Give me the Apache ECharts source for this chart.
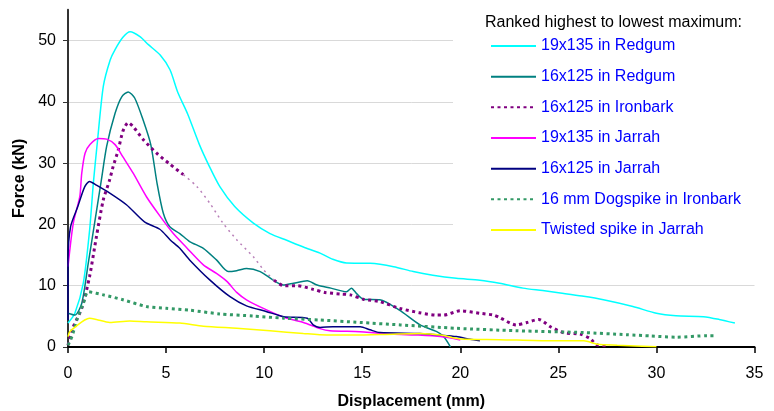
<!DOCTYPE html>
<html>
<head>
<meta charset="utf-8">
<script src="https://cdn.jsdelivr.net/npm/echarts@6/dist/echarts.min.js"></script>
<style>
html,body{margin:0;padding:0;background:#fff;}
#chart{width:774px;height:411px;}
</style>
</head>
<body>
<div id="chart"></div>
<script>
// ---- Data (displacement mm, force kN) ----
const seriesNames = [
  '19x135 in Redgum',
  '16x125 in Redgum',
  '16x125 in Ironbark',
  '19x135 in Jarrah',
  '16x125 in Jarrah',
  '16 mm Dogspike in Ironbark',
  'Twisted spike in Jarrah'
];
const legendTitle = 'Ranked highest to lowest maximum:';
const xTicks = [0, 5, 10, 15, 20, 25, 30, 35];
const yTicks = [0, 10, 20, 30, 40, 50];

const redgum19 = [[0,3.9],[0.35,5.5],[0.78,10.4],[1.1,19],[1.3,27],[1.5,33.5],[1.8,42.5],[2.15,46.8],[2.4,48.5],[2.8,50.5],[3.17,51.4],[3.67,50.6],[4.1,49.3],[4.7,47.6],[5.2,45.2],[5.6,41.5],[6.1,38],[6.7,33],[7.2,29.5],[7.75,26.1],[8.5,22.9],[9.45,20.2],[10.3,18.5],[11.15,17.4],[12,16.3],[12.85,15.3],[13.5,14.3],[14.2,13.7],[15.4,13.65],[16.6,13.1],[17.6,12.3],[18.6,11.7],[19.8,11.2],[21.0,10.9],[22.0,10.4],[23.2,9.6],[24.2,9.2],[25.1,8.8],[26.2,8.3],[27.3,7.7],[28.8,6.6],[30.0,5.5],[31.0,5.1],[32.4,4.95],[33.2,4.5],[34.0,3.9]];
const redgum16 = [[0,5.5],[0.35,5.2],[0.7,7.1],[1.03,13.6],[1.38,20.7],[1.7,27.2],[1.97,32.7],[2.4,38.1],[2.74,40.8],[3.07,41.6],[3.4,40.6],[3.83,37],[4.22,33],[4.55,26.5],[4.86,21.8],[5.19,19.6],[5.7,18.5],[6.2,17.2],[6.9,16.1],[7.57,14.2],[8.17,12.3],[8.6,12.45],[9.1,12.8],[9.8,12.3],[10.46,10.9],[10.97,10.1],[11.5,10.4],[12.2,10.8],[12.7,10.1],[13.4,9.6],[14.2,9.0],[14.45,9.6],[14.7,8.75],[15.05,7.8],[15.9,7.7],[16.9,6.0],[17.95,3.6],[18.8,2.5],[19.15,1.7],[19.5,0]];
const ironbark16 = [[0,0.3],[0.27,3.3],[0.7,6.3],[1.1,11.5],[1.45,18],[1.8,24],[2.1,27],[2.3,29.4],[2.56,32.1],[2.8,35.2],[3.07,36.6],[3.33,35.9],[3.84,33.8],[4.52,31.6],[5.2,29.8],[5.88,28.1],[6.56,26.2],[7.24,23.4],[7.9,20.2],[8.6,17.5],[9.45,14.7],[9.97,12.6],[10.5,10.9],[11.0,10.0],[11.65,10.0],[12.5,9.4],[13.1,8.9],[13.87,8.65],[14.4,8.5],[15.05,7.8],[15.9,7.4],[16.9,6.3],[17.9,5.6],[18.8,5.2],[19.15,5.2],[20.0,5.9],[21.0,5.5],[21.7,5.2],[22.0,4.8],[22.85,3.6],[23.4,4.0],[24.0,4.5],[24.6,3.3],[25.3,2.3],[26.1,2.1],[26.6,1.4],[27.0,0.3],[27.6,0.2]];
const jarrah19 = [[0,13.1],[0.27,20.2],[0.6,24.5],[0.7,28.3],[0.87,31.6],[1.12,33.0],[1.55,34.0],[1.97,33.9],[2.4,33.0],[2.8,31.0],[3.33,28.3],[4.0,24.5],[4.7,21.3],[5.37,18.5],[6.05,16.2],[6.9,13.4],[7.57,12.0],[8.1,10.7],[8.6,8.9],[9.1,7.7],[9.96,6.3],[11.0,4.85],[12.0,4.0],[12.85,3.0],[13.35,2.65],[14.9,2.5],[15.9,2.2],[17.8,1.95],[19.0,1.7],[20.0,1.15]];
const jarrah16 = [[0,4.4],[0,14.2],[0.13,19.6],[0.5,22.9],[0.85,26.1],[1.1,27.0],[1.45,26.4],[2.13,25.1],[2.98,23.2],[3.9,20.4],[4.68,19.2],[5.2,17.5],[5.7,16.1],[6.2,14.2],[7.24,10.9],[8.26,8.2],[9.1,6.7],[10.1,5.8],[11.0,4.95],[12.2,4.7],[12.5,3.6],[12.85,3.2],[13.5,3.3],[14.9,3.3],[15.4,2.8],[15.9,2.35],[17.95,2.2],[19.0,1.95],[19.8,1.7],[20.5,1.25],[21.0,1.0]];
const dogspike = [[0,0.3],[0.2,1.7],[0.45,4.4],[0.78,7.1],[1.03,9.0],[1.8,8.5],[2.8,7.7],[4.0,6.6],[5.0,6.3],[6.2,6.0],[7.73,5.4],[9.45,5.05],[11.0,4.7],[12.85,4.4],[14.9,4.0],[16.95,3.6],[19.8,3.05],[22.85,2.65],[26.3,2.35],[28.5,2.0],[29.7,1.8],[31.0,1.6],[32.6,1.85],[33.0,1.85]];
const twisted = [[0,1.7],[0.09,2.5],[0.5,3.6],[0.85,4.4],[1.1,4.7],[1.45,4.5],[2.13,4.0],[3.15,4.25],[4.0,4.1],[5.7,3.9],[6.9,3.4],[8.6,3.05],[10.3,2.65],[12.0,2.2],[13.2,1.95],[14.55,1.95],[16.2,2.05],[17.95,2.2],[19.0,1.95],[20.0,1.3],[22.0,1.2],[24.6,1.0],[26.3,1.0],[27.0,0.45],[28.0,0.3],[30.0,0.05]];

// The Ironbark curve is drawn faint between these displacements in the original
const ironbarkFaintFrom = 5.88, ironbarkFaintTo = 10.5;

const FONT = '"Liberation Sans", Arial, sans-serif';
const colors = ['#00FFFF', '#008080', '#800080', '#FF00FF', '#000080', '#339966', '#FFFF00'];

const ironbarkMain = ironbark16.map(p => (p[0] > ironbarkFaintFrom && p[0] < ironbarkFaintTo) ? [p[0], '-'] : p);
const ironbarkFaint = ironbark16.filter(p => p[0] >= ironbarkFaintFrom && p[0] <= ironbarkFaintTo);

function lineSeries(name, data, color, width, type, extra) {
  return Object.assign({
    name: name, type: 'line', data: data, xAxisIndex: 0, yAxisIndex: 0,
    symbol: 'none', smooth: 0.25, connectNulls: false,
    lineStyle: { color: color, width: width, type: type, cap: 'butt' },
    itemStyle: { color: color },
    emphasis: { disabled: true },
    animation: false
  }, extra || {});
}

const dots = [3, 3.5];

const chart = echarts.init(document.getElementById('chart'), null, { renderer: 'canvas' });
chart.setOption({
  backgroundColor: '#ffffff',
  animation: false,
  textStyle: { fontFamily: FONT },
  grid: [
    { left: 68, right: 19.5, top: 9.7, bottom: 64, containLabel: false, outerBoundsMode: 'none' },
    { left: 68, right: 19.5, top: 40.5, bottom: 64, containLabel: false, outerBoundsMode: 'none' }
  ],
  xAxis: [
    {
      type: 'value', gridIndex: 0, min: xTicks[0], max: xTicks[xTicks.length - 1], interval: 5,
      name: 'Displacement (mm)', nameLocation: 'middle', nameGap: 47,
      nameTextStyle: { fontSize: 16, fontWeight: 'bold', color: '#000', fontFamily: FONT },
      axisLine: { show: true, onZero: false, lineStyle: { color: '#000', width: 2 } },
      axisTick: { show: true, length: 6, lineStyle: { color: '#000', width: 1.5 } },
      axisLabel: { fontSize: 16, color: '#000', margin: 19, fontFamily: FONT },
      splitLine: { show: false }
    },
    {
      type: 'value', gridIndex: 1, min: 0, max: 35, show: false
    }
  ],
  yAxis: [
    {
      type: 'value', gridIndex: 0, min: 0, max: 55,
      name: 'Force (kN)', nameLocation: 'middle', nameGap: 40, nameRotate: 90,
      nameTextStyle: { fontSize: 16, fontWeight: 'bold', color: '#000', fontFamily: FONT },
      axisLine: { show: true, onZero: false, lineStyle: { color: '#333', width: 2 } },
      axisTick: { show: false },
      axisLabel: { show: false },
      splitLine: { show: false }
    },
    {
      type: 'value', gridIndex: 1, min: yTicks[0], max: yTicks[yTicks.length - 1], interval: 10,
      axisLine: { show: false },
      axisTick: { show: true, length: 5, lineStyle: { color: '#333', width: 1 } },
      axisLabel: { fontSize: 16, color: '#000', margin: 12, fontFamily: FONT },
      splitLine: { show: true, lineStyle: { color: '#d9d9d9', width: 1 } }
    }
  ],
  legend: {
    data: seriesNames,
    orient: 'vertical',
    left: 490, top: 38,
    itemWidth: 45, itemHeight: 16, itemGap: 14.67,
    padding: 0,
    itemStyle: { opacity: 0 },
    textStyle: { color: '#0000FF', fontSize: 16, fontFamily: FONT },
    selectedMode: false
  },
  graphic: [
    { type: 'rect', left: 453, top: 0, z: 1, shape: { width: 321, height: 250 }, style: { fill: '#ffffff' } },
    { type: 'text', left: 485, top: 15, z: 5, style: { text: legendTitle, fill: '#000', font: '16px ' + FONT } }
  ],
  series: [
    lineSeries(seriesNames[0], redgum19, colors[0], 1.5, 'solid'),
    lineSeries(seriesNames[1], redgum16, colors[1], 1.5, 'solid'),
    lineSeries(seriesNames[2], ironbarkMain, colors[2], 3, dots),
    lineSeries('ironbark-faint', ironbarkFaint, '#b980b9', 1.5, [2, 4]),
    lineSeries(seriesNames[3], jarrah19, colors[3], 1.5, 'solid'),
    lineSeries(seriesNames[4], jarrah16, colors[4], 1.5, 'solid'),
    lineSeries(seriesNames[5], dogspike, colors[5], 3, dots),
    lineSeries(seriesNames[6], twisted, colors[6], 1.5, 'solid')
  ]
});
</script>
</body>
</html>
